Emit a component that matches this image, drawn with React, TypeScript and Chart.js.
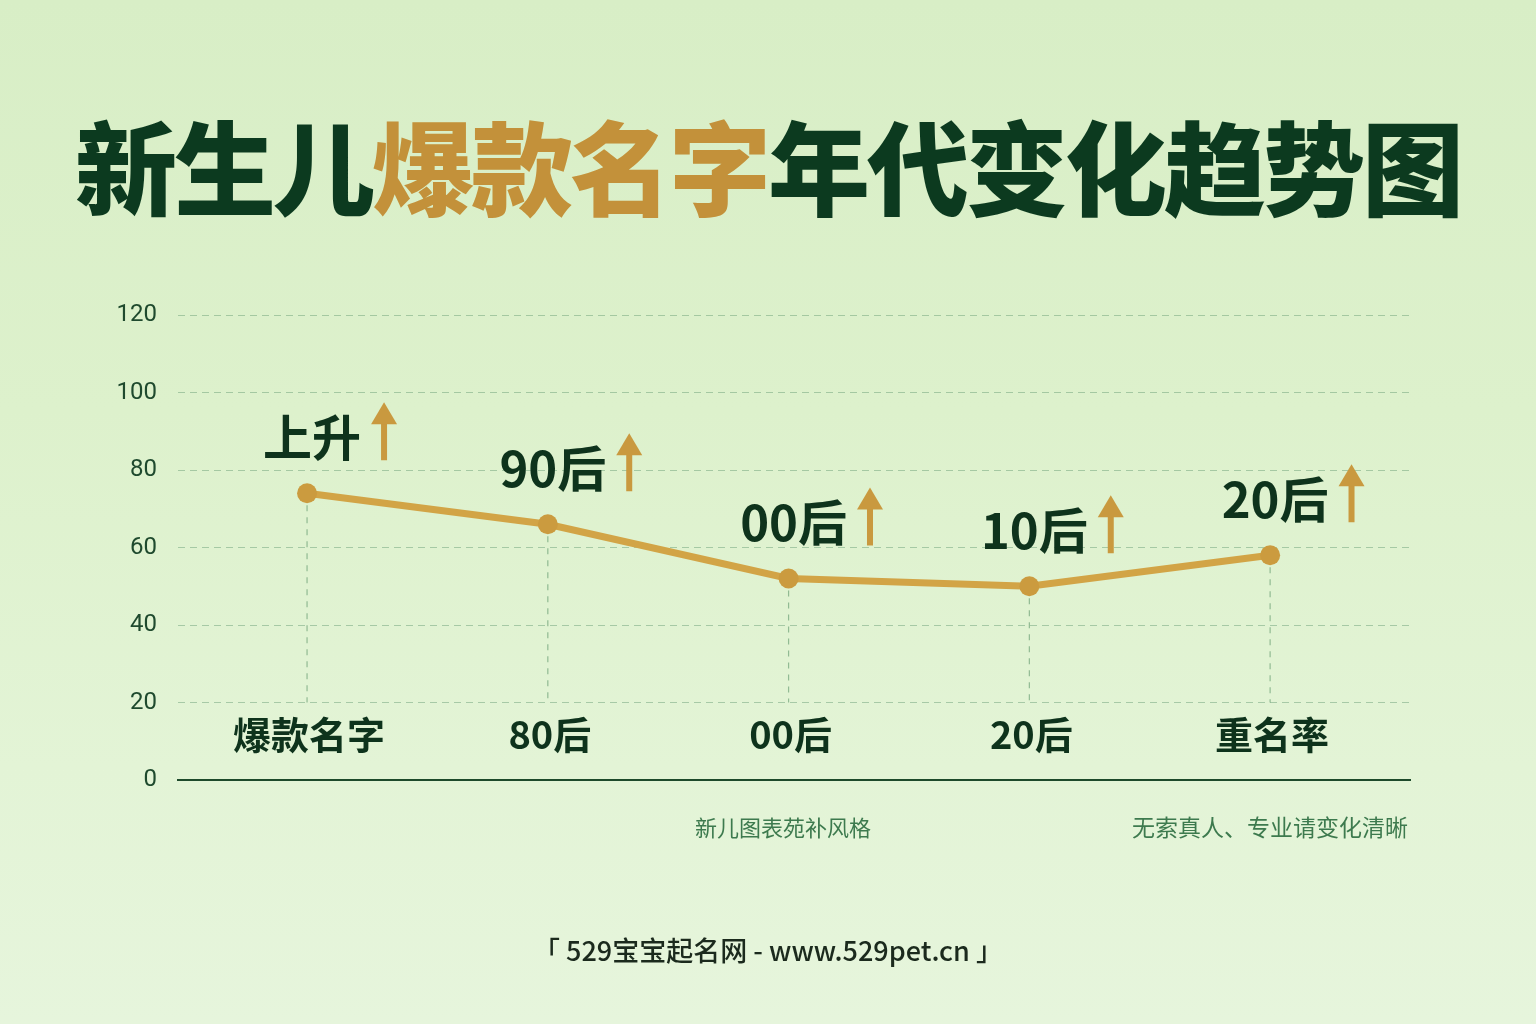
import React, { useEffect, useRef } from "react";
import { Chart, registerables } from "chart.js";

Chart.register(...registerables);

const categories = ["爆款名字", "80后", "00后", "20后", "重名率"];
const values = [74, 66, 52, 50, 58];
const pointLabels = ["上升", "90后", "00后", "10后", "20后"];
const yMin = 0;
const yMax = 120;
const yStep = 20;
const titleDark1 = "新生儿";
const titleGold = "爆款名字";
const titleDark2 = "年代变化趋势图";
const noteLeft = "新儿图表苑补风格";
const noteRight = "无索真人、专业请变化清晰";
const footer = "「 529宝宝起名网 - www.529pet.cn 」";

const CJK = '"Noto Sans CJK SC", "Noto Sans", sans-serif';
const GOLD = "#c9993f";
const DARK = "#0e331c";

const overlayPlugin = {
  id: "overlay",
  beforeDatasetsDraw(chart: any) {
    const { ctx, scales } = chart;
    const xs = scales.x;
    const ys = scales.y;
    const bottomY = ys.getPixelForValue(20);
    ctx.save();
    ctx.strokeStyle = "rgba(80,140,95,0.55)";
    ctx.lineWidth = 1.2;
    ctx.setLineDash([6, 6]);
    values.forEach((v, i) => {
      const px = xs.getPixelForValue(i);
      const py = ys.getPixelForValue(v);
      ctx.beginPath();
      ctx.moveTo(px, py);
      ctx.lineTo(px, bottomY);
      ctx.stroke();
    });
    ctx.setLineDash([]);
    ctx.fillStyle = DARK;
    ctx.font = `bold 38px ${CJK}`;
    ctx.textAlign = "center";
    ctx.textBaseline = "middle";
    const labY = ys.getPixelForValue(0) - 45;
    categories.forEach((c, i) => {
      ctx.fillText(c, xs.getPixelForValue(i) + 2, labY);
    });
    ctx.restore();
  },
  afterDatasetsDraw(chart: any) {
    const { ctx, scales } = chart;
    const xs = scales.x;
    const ys = scales.y;
    ctx.save();
    ctx.font = `bold 49px ${CJK}`;
    ctx.textAlign = "center";
    ctx.textBaseline = "middle";
    pointLabels.forEach((t, i) => {
      const px = xs.getPixelForValue(i);
      const py = ys.getPixelForValue(values[i]);
      const ty = py - 56;
      const tx = px + 5;
      ctx.fillStyle = DARK;
      ctx.fillText(t, tx, ty);
      const w = ctx.measureText(t).width;
      const ax = tx + w / 2 + 23;
      const aBottom = ty + 23;
      const aTop = ty - 35;
      ctx.fillStyle = GOLD;
      ctx.fillRect(ax - 3, aTop + 18, 6, aBottom - aTop - 18);
      ctx.beginPath();
      ctx.moveTo(ax, aTop);
      ctx.lineTo(ax + 13, aTop + 22);
      ctx.lineTo(ax - 13, aTop + 22);
      ctx.closePath();
      ctx.fill();
    });
    ctx.restore();
  },
};

export default function App() {
  const ref = useRef<HTMLCanvasElement | null>(null);

  useEffect(() => {
    document.body.style.margin = "0";
    document.body.style.overflow = "hidden";
    if (!ref.current) return;
    const chart = new Chart(ref.current, {
      type: "line",
      data: {
        datasets: [
          {
            data: values.map((v, i) => ({ x: i, y: v })),
            borderColor: "#d2a446",
            borderWidth: 7,
            pointRadius: 10,
            pointHoverRadius: 10,
            pointBackgroundColor: "#cb9b3f",
            pointBorderWidth: 0,
            tension: 0,
            fill: false,
          },
        ],
      },
      options: {
        responsive: false,
        animation: false,
        events: [],
        layout: { padding: { left: 118, top: 315, right: 126, bottom: 244 } },
        plugins: { legend: { display: false }, tooltip: { enabled: false }, title: { display: false } },
        scales: {
          x: {
            type: "linear",
            min: -0.536,
            max: 4.581,
            ticks: { display: false },
            grid: { display: true, color: "rgba(0,0,0,0)", drawTicks: false },
            border: { display: true, color: "#1d4a2b", width: 2 },
            afterFit: (s: any) => {
              s.height = 0;
            },
          },
          y: {
            min: yMin,
            max: yMax,
            ticks: {
              stepSize: yStep,
              color: "#1f4a2e",
              font: { size: 24, family: 'Roboto, "Noto Sans", sans-serif' },
              padding: 21,
            },
            grid: {
              drawTicks: false,
              lineWidth: 1,
              color: (c: any) => (c.tick && c.tick.value === 0 ? "rgba(0,0,0,0)" : "rgba(95,150,110,0.45)"),
            },
            border: { display: false, dash: [7, 5] },
            afterFit: (s: any) => {
              s.width = 60;
            },
          },
        },
      },
      plugins: [overlayPlugin],
    } as any);
    return () => chart.destroy();
  }, []);

  return (
    <div
      style={{
        position: "relative",
        width: 1536,
        height: 1024,
        overflow: "hidden",
        background: "linear-gradient(180deg, #d8eec6 0%, #ddf1cc 40%, #e3f4d6 75%, #e6f5dc 100%)",
        fontFamily: CJK,
      }}
    >
      <canvas ref={ref} width={1536} height={1024} style={{ position: "absolute", left: 0, top: 0 }} />
      <div
        style={{
          position: "absolute",
          left: 0,
          top: 113,
          width: 1536,
          textAlign: "center",
          fontSize: 102,
          lineHeight: "102px",
          letterSpacing: -3,
          fontWeight: 900,
          whiteSpace: "nowrap",
          color: "#0c3a1f",
        }}
      >
        <span>{titleDark1}</span>
        <span style={{ color: "#c3913a" }}>{titleGold}</span>
        <span>{titleDark2}</span>
      </div>
      <div
        style={{
          position: "absolute",
          left: 583,
          top: 810,
          width: 400,
          textAlign: "center",
          fontSize: 22,
          lineHeight: "32px",
          color: "#3d7a4e",
          whiteSpace: "nowrap",
        }}
      >
        {noteLeft}
      </div>
      <div
        style={{
          position: "absolute",
          right: 128,
          top: 810,
          fontSize: 23,
          lineHeight: "32px",
          color: "#3d7a4e",
          whiteSpace: "nowrap",
        }}
      >
        {noteRight}
      </div>
      <div
        style={{
          position: "absolute",
          left: 0,
          top: 932,
          width: 1536,
          textAlign: "center",
          fontSize: 27,
          lineHeight: "36px",
          fontWeight: 500,
          color: "#1b2a1d",
          whiteSpace: "nowrap",
        }}
      >
        {footer}
      </div>
    </div>
  );
}
